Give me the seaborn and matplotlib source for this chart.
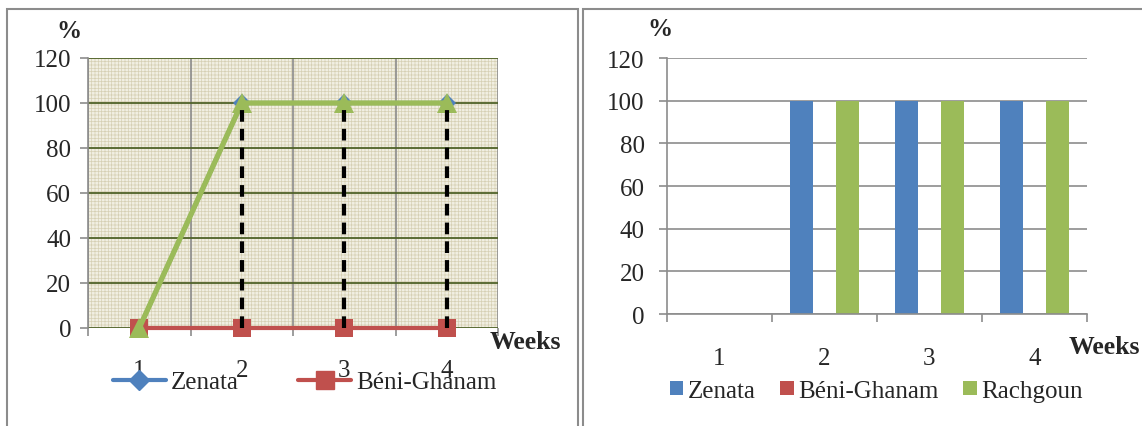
import pandas as pd
import matplotlib.pyplot as plt
import seaborn as sns
from matplotlib.lines import Line2D
from matplotlib.patches import Rectangle, Patch

sns.set_theme(style="white")
plt.rcParams['font.family'] = ['Liberation Serif', 'DejaVu Serif']
plt.rcParams['hatch.linewidth'] = 0.5
plt.rcParams['hatch.color'] = '#D6D0B4'

# --- data ---
weeks = [1, 2, 3, 4]
sites = ["Zenata", "Béni-Ghanam", "Rachgoun"]
zenata = [0, 100, 100, 100]
beni_ghanam = [0, 0, 0, 0]
rachgoun = [0, 100, 100, 100]
y_ticks = [0, 20, 40, 60, 80, 100, 120]

colors = {"Zenata": "#4F81BD", "Béni-Ghanam": "#C0504D", "Rachgoun": "#9BBB59"}

df = pd.DataFrame({
    "week": weeks * 3,
    "value": zenata + beni_ghanam + rachgoun,
    "site": [s for s in sites for _ in weeks],
})

fs = 18
fig = plt.figure(figsize=(11.42, 4.27), dpi=100)

# panel frames
for x0, x1 in [(7, 578), (583, 1150)]:
    fig.add_artist(Rectangle((x0 / 1142, -0.05), (x1 - x0) / 1142, 1.05 - 10 / 427,
                             transform=fig.transFigure, fill=False,
                             edgecolor='#8C8C8C', linewidth=1.5))

# --- left: line chart ---
ax1 = fig.add_axes([88 / 1142, 1 - 329 / 427, 410 / 1142, 270 / 427])
ax1.add_patch(Rectangle((0, 0), 1, 1, transform=ax1.transAxes, facecolor='#F1EFE2',
                        hatch='+++++', edgecolor='#D6D0B4', linewidth=0, zorder=0.1))
ax1.set_axisbelow(True)

styles = {"Zenata": dict(marker='D', markersize=9, linewidth=3),
          "Béni-Ghanam": dict(marker='s', markersize=13, linewidth=3),
          "Rachgoun": dict(marker='^', markersize=15, linewidth=3.8)}
for s in sites:
    sub = df[df.site == s]
    sns.lineplot(data=sub, x="week", y="value", color=colors[s], ax=ax1,
                 markeredgewidth=0, legend=False, clip_on=False, **styles[s])

# drop lines
ax1.vlines(weeks, 0, zenata, colors='black', linewidth=3, linestyles=(0, (2.8, 1.7)), zorder=5)

ax1.set_xlim(0.5, 4.5)
ax1.set_ylim(0, 120)
ax1.set_yticks(y_ticks)
ax1.set_xticks(weeks)
ax1.set_xticks([0.5, 1.5, 2.5, 3.5, 4.5], minor=True)
ax1.grid(True, axis='y', which='major', color='#4F6228', linewidth=1.3)
ax1.grid(True, axis='x', which='minor', color='#8C8C8C', linewidth=1.2)
ax1.tick_params(axis='x', which='major', length=0, pad=22, labelsize=fs)
ax1.tick_params(axis='x', which='minor', length=6, width=1.2, color='#8C8C8C', direction='out', bottom=True)
ax1.tick_params(axis='y', length=6, width=1.2, color='#8C8C8C', direction='out', left=True, pad=6, labelsize=fs)
for side in ['top', 'right', 'bottom']:
    ax1.spines[side].set_visible(False)
ax1.spines['left'].set_color('#8C8C8C')
ax1.spines['left'].set_linewidth(1.2)
ax1.set_xlabel("")
ax1.set_ylabel("")

fig.text(69 / 1142, 1 - 32 / 427, "%", fontsize=18, fontweight='bold', ha='center', va='center')
fig.text(525 / 1142, 1 - 343 / 427, "Weeks", fontsize=18.5, fontweight='bold', ha='center', va='center')

h1 = [Line2D([], [], color=colors[s], **styles[s]) for s in sites[:2]]
h1[0].set_markersize(10)
fig.legend(h1, sites[:2], loc='center left', bbox_to_anchor=(113 / 1142, 1 - 383 / 427),
           ncol=2, frameon=False, fontsize=fs, handlelength=2.1, handletextpad=0.2,
           columnspacing=2.4, borderpad=0, borderaxespad=0)

# --- right: bar chart ---
ax2 = fig.add_axes([667 / 1142, 1 - 315 / 427, 420 / 1142, 256 / 427])
ax2.set_axisbelow(True)
sns.barplot(data=df, x="week", y="value", hue="site", palette=colors, hue_order=sites,
            width=0.66, gap=0, ax=ax2, legend=False, linewidth=0, errorbar=None,
            saturation=1)
ax2.set_xlim(-0.5, 3.5)
ax2.set_ylim(0, 120)
ax2.set_yticks(y_ticks)
ax2.set_xticks([-0.5, 0.5, 1.5, 2.5, 3.5], minor=True)
ax2.grid(True, axis='y', which='major', color='#8C8C8C', linewidth=1.2)
ax2.tick_params(axis='x', which='major', length=0, pad=24, labelsize=fs)
ax2.tick_params(axis='x', which='minor', length=6, width=1.2, color='#8C8C8C', direction='out', bottom=True)
ax2.tick_params(axis='y', length=6, width=1.2, color='#8C8C8C', direction='out', left=True, pad=10, labelsize=fs)
for side in ['top', 'right']:
    ax2.spines[side].set_visible(False)
for side in ['left', 'bottom']:
    ax2.spines[side].set_color('#8C8C8C')
    ax2.spines[side].set_linewidth(1.2)
ax2.set_xlabel("")
ax2.set_ylabel("")

fig.text(660 / 1142, 1 - 30 / 427, "%", fontsize=18, fontweight='bold', ha='center', va='center')
fig.text(1104 / 1142, 1 - 348 / 427, "Weeks", fontsize=18.5, fontweight='bold', ha='center', va='center')

h2 = [Patch(facecolor=colors[s], edgecolor='none') for s in sites]
fig.legend(h2, sites, loc='center left', bbox_to_anchor=(670 / 1142, 1 - 392 / 427),
           ncol=3, frameon=False, fontsize=fs, handlelength=0.53, handleheight=0.5,
           handletextpad=0.17, columnspacing=1.0, borderpad=0, borderaxespad=0)

fig.savefig("out.png", dpi=100)
